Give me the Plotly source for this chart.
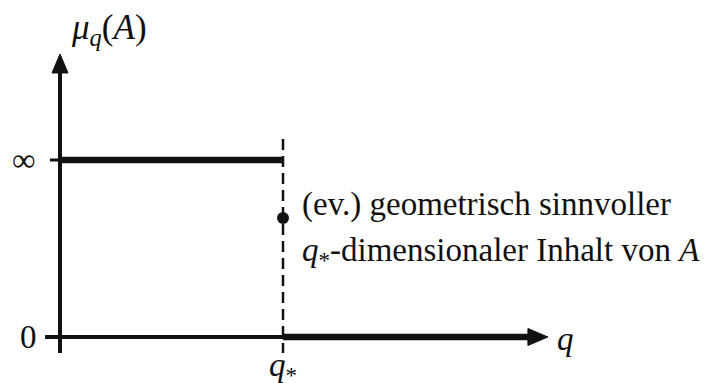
import plotly.graph_objects as go

# --- values -------------------------------------------------------------
q_star = 1.0              # critical dimension q*
level_inf = 1.0           # height where "∞" is drawn
level_zero = 0.0          # height of the value 0
point_value = 0.672       # (possibly) meaningful q*-dimensional content
q_axis_start = -0.067
q_axis_end = 2.188        # tip of the q-arrow
mu_axis_start = -0.09
mu_axis_end = 1.599       # tip of the μ-arrow
dash_top = 1.119
dash_bottom = -0.09
tick_len = -0.045

tick_values = [level_zero, level_inf]
tick_labels = ["0", "∞"]

# --- layout geometry (pixels per data unit) -----------------------------
W, H = 709, 383
SX, SY = 223.0, 177.0
x0_px, y0_px = 60.0, 337.0
x_range = [-x0_px / SX, (W - x0_px) / SX]
y_range = [-(H - y0_px) / SY, y0_px / SY]

INK = "#111111"
SERIF = "Liberation Serif, Times New Roman, serif"
FS = 33

fig = go.Figure()

def seg(xs, ys, width, dash=None):
    fig.add_trace(go.Scatter(
        x=xs, y=ys, mode="lines", hoverinfo="skip", showlegend=False,
        line=dict(color=INK, width=width, dash=dash),
    ))

def head(tip_x, tip_y, direction, length_px, half_px):
    # filled triangular arrowhead, sized in pixels, placed at data point
    if direction == "right":
        L, h = length_px / SX, half_px / SY
        xs = [tip_x, tip_x - L, tip_x - L, tip_x]
        ys = [tip_y, tip_y + h, tip_y - h, tip_y]
    else:
        L, h = length_px / SY, half_px / SX
        xs = [tip_x, tip_x - h, tip_x + h, tip_x]
        ys = [tip_y, tip_y - L, tip_y - L, tip_y]
    fig.add_trace(go.Scatter(
        x=xs, y=ys, mode="lines", fill="toself", fillcolor=INK,
        line=dict(color=INK, width=1), hoverinfo="skip", showlegend=False,
    ))

# axes
seg([q_axis_start, q_star], [level_zero, level_zero], 4)
seg([0, 0], [mu_axis_start, mu_axis_end - 15 / SY], 4)
head(q_axis_end, level_zero, "right", 20, 8.5)
head(0, mu_axis_end, "up", 19, 8)

# tick for ∞
seg([tick_len, 0], [level_inf, level_inf], 3)

# μ_q(A) = ∞ for q < q*, = 0 for q > q*
seg([0, q_star], [level_inf, level_inf], 6.5)
seg([q_star, q_axis_end - 15 / SX], [level_zero, level_zero], 6.5)

# dashed line at q*
seg([q_star, q_star], [dash_top, dash_bottom], 2.5, dash="11px,6px")

# value at q*
fig.add_trace(go.Scatter(
    x=[q_star], y=[point_value], mode="markers", hoverinfo="skip",
    showlegend=False, marker=dict(color=INK, size=12),
))

# --- text ---------------------------------------------------------------
def label(text, x, y, xanchor="center", size=FS):
    fig.add_annotation(
        x=x, y=y, text=text, showarrow=False, xanchor=xanchor, yanchor="middle",
        font=dict(family=SERIF, size=size, color=INK),
    )

label(tick_labels[0], -0.143, tick_values[0])
label(tick_labels[1], -0.161, tick_values[1])
label("<i>μ</i><sub><i>q</i></sub>(<i>A</i>)", 0.04, 1.74, xanchor="left", size=35)
label("<i>q</i>", 2.265, -0.01)
label("<i>q</i><sub>*</sub>", q_star, -0.17)
label("(ev.) geometrisch sinnvoller", 1.076, 0.75, xanchor="left")
label("<i>q</i><sub>*</sub>-dimensionaler Inhalt von <i>A</i>", 1.076, 0.48,
      xanchor="left")

fig.update_layout(
    width=W, height=H, margin=dict(l=0, r=0, t=0, b=0),
    paper_bgcolor="white", plot_bgcolor="white",
    xaxis=dict(range=x_range, visible=False, fixedrange=True),
    yaxis=dict(range=y_range, visible=False, fixedrange=True),
)

fig.write_html("out.html")
